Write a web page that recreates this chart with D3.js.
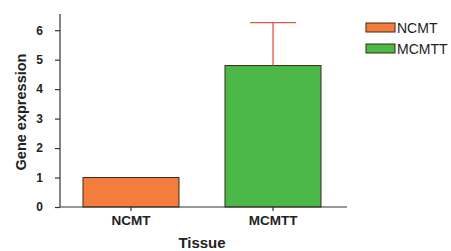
<!DOCTYPE html>
<html>
<head>
<meta charset="utf-8">
<script src="https://cdn.jsdelivr.net/npm/d3@7"></script>
<style>
  html, body { margin: 0; padding: 0; background: #fff; }
  svg { display: block; }
</style>
</head>
<body>
<div id="chart"></div>
<script>
// Data
const categories = ["NCMT", "MCMTT"];
const means = [1.0, 4.8];
const errors = [0, 1.46];
const barColors = ["#F47C3C", "#4CB848"];
const yTicks = [0, 1, 2, 3, 4, 5, 6];

const width = 451, height = 251;
const font = "Arial, 'Liberation Sans', sans-serif";

const svg = d3.select("#chart").append("svg")
    .attr("width", width)
    .attr("height", height);

const x = d3.scaleBand()
    .domain(categories)
    .range([60, 344])
    .paddingInner(0.324)
    .paddingOuter(0.162);

const y = d3.scaleLinear()
    .domain([0, 6.55])
    .range([207, 14]);

// Bars
svg.selectAll(".bar")
    .data(categories)
    .enter().append("rect")
    .attr("class", "bar")
    .attr("x", d => x(d))
    .attr("y", (d, i) => y(means[i]))
    .attr("width", x.bandwidth())
    .attr("height", (d, i) => y(0) - y(means[i]))
    .attr("fill", (d, i) => barColors[i])
    .attr("stroke", "#3a2a1a")
    .attr("stroke-width", 1);

// Error bars (upper only)
const errG = svg.append("g");
categories.forEach((c, i) => {
    if (!errors[i]) return;
    const cx = x(c) + x.bandwidth() / 2;
    errG.append("line")
        .attr("x1", cx).attr("x2", cx)
        .attr("y1", y(means[i])).attr("y2", y(means[i] + errors[i]))
        .attr("stroke", "#E8574A").attr("stroke-width", 1.3);
    errG.append("line")
        .attr("x1", cx - 23).attr("x2", cx + 23)
        .attr("y1", y(means[i] + errors[i])).attr("y2", y(means[i] + errors[i]))
        .attr("stroke", "#E8574A").attr("stroke-width", 1.3);
});

// Y axis
const yAxis = svg.append("g")
    .attr("transform", "translate(60,0)")
    .call(d3.axisLeft(y).tickValues(yTicks).tickFormat(d3.format("d")).tickSize(5).tickPadding(12));
yAxis.select(".domain").attr("d", `M0,${y(0)}V14`);
yAxis.selectAll("line, path").attr("stroke", "#333").attr("stroke-width", 1.2);
yAxis.selectAll("text")
    .attr("font-family", font)
    .attr("font-size", "12px")
    .attr("font-weight", "bold")
    .attr("fill", "#222");

// X axis
const xAxis = svg.append("g")
    .attr("transform", `translate(0,${y(0)})`)
    .call(d3.axisBottom(x).tickSize(4).tickPadding(4));
xAxis.select(".domain").attr("d", "M60,0H347");
xAxis.selectAll("line, path").attr("stroke", "#333").attr("stroke-width", 1.2);
xAxis.selectAll("text")
    .attr("font-family", font)
    .attr("font-size", "13.5px")
    .attr("font-weight", "bold")
    .attr("fill", "#222");

// Axis titles
svg.append("text")
    .attr("transform", "translate(26,112) rotate(-90)")
    .attr("text-anchor", "middle")
    .attr("font-family", font)
    .attr("font-size", "14.5px")
    .attr("font-weight", "bold")
    .attr("fill", "#222")
    .text("Gene expression");

svg.append("text")
    .attr("x", 202)
    .attr("y", 248)
    .attr("text-anchor", "middle")
    .attr("font-family", font)
    .attr("font-size", "15px")
    .attr("font-weight", "bold")
    .attr("fill", "#222")
    .text("Tissue");

// Legend
const legend = svg.append("g").attr("transform", "translate(366,23)");
categories.forEach((c, i) => {
    const g = legend.append("g").attr("transform", `translate(0,${i * 21})`);
    g.append("rect")
        .attr("width", 29).attr("height", 9)
        .attr("fill", barColors[i])
        .attr("stroke", "#3a2a1a").attr("stroke-width", 1);
    g.append("text")
        .attr("x", 31).attr("y", 9.5)
        .attr("font-family", font)
        .attr("font-size", "14px")
        .attr("fill", "#222")
        .text(c);
});
</script>
</body>
</html>
